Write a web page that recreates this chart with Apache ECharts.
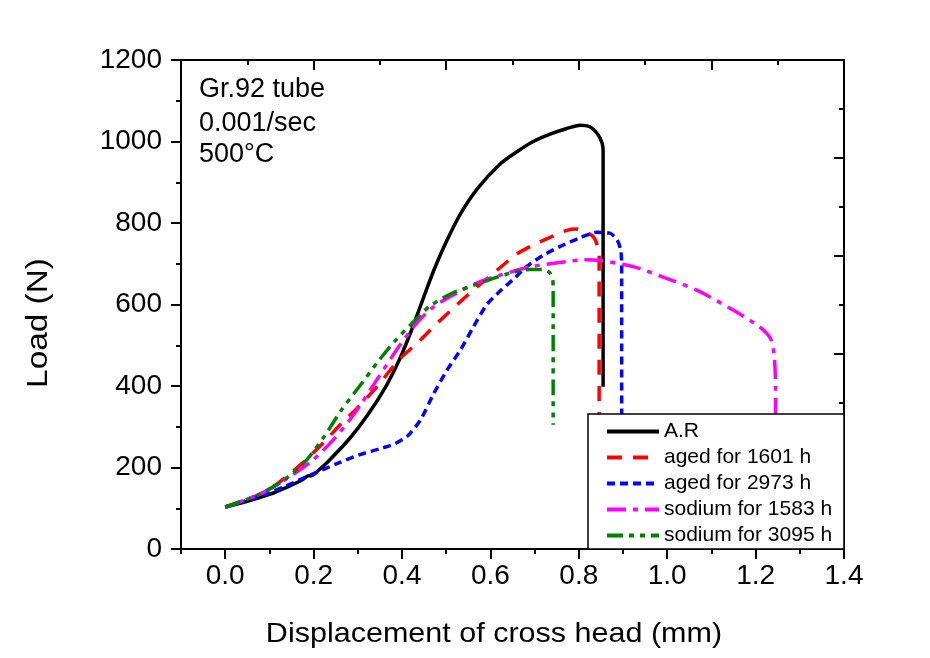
<!DOCTYPE html>
<html><head><meta charset="utf-8">
<script src="https://cdn.jsdelivr.net/npm/echarts@6/dist/echarts.min.js"></script>
<style>html,body{margin:0;padding:0;background:#fff}#c{width:930px;height:658px}</style>
</head><body><div id="c"></div>
<script>
// ---- data ----
const seriesNames = ['A.R', 'aged for 1601 h', 'aged for 2973 h', 'sodium for 1583 h', 'sodium for 3095 h'];
const seriesColors = ['#000000', '#ff0000', '#0000ff', '#ff00ff', '#008000'];

const dataAR = [[0,103],[0.05,117],[0.1,134],[0.14,152],[0.175,170],[0.188,180],[0.196,180],[0.21,192],[0.234,216],[0.283,273],[0.323,330],[0.363,398],[0.393,462],[0.418,527],[0.443,600],[0.472,684],[0.502,758],[0.532,822],[0.572,886],[0.622,945],[0.66,975],[0.697,1000],[0.735,1018],[0.773,1032],[0.803,1040],[0.825,1036],[0.844,1016],[0.853,995],[0.855,978],[0.855,398]];
const dataAged1601 = [[0,103],[0.06,125],[0.114,157],[0.174,210],[0.224,263],[0.263,308],[0.298,345],[0.343,398],[0.393,464],[0.438,509],[0.472,546],[0.512,587],[0.562,636],[0.616,685],[0.66,724],[0.697,746],[0.742,768],[0.773,782],[0.795,785],[0.815,779],[0.833,766],[0.842,745],[0.846,720],[0.846,0]];
const dataAged2973 = [[0,103],[0.075,128],[0.134,153],[0.194,182],[0.254,210],[0.303,231],[0.353,247],[0.383,258],[0.413,278],[0.442,317],[0.472,382],[0.502,439],[0.532,488],[0.562,546],[0.592,600],[0.622,633],[0.652,662],[0.682,693],[0.72,721],[0.757,742],[0.803,764],[0.84,777],[0.87,775],[0.887,758],[0.895,732],[0.897,700],[0.897,0]];
const dataSodium1583 = [[0,103],[0.075,133],[0.134,169],[0.194,214],[0.244,267],[0.293,333],[0.343,415],[0.393,497],[0.433,554],[0.472,595],[0.522,627],[0.572,654],[0.622,672],[0.697,694],[0.773,705],[0.81,710],[0.848,708],[0.923,693],[0.989,668],[1.069,634],[1.148,587],[1.208,546],[1.234,516],[1.242,475],[1.245,400],[1.245,0]];
const dataSodium3095 = [[0,103],[0.075,133],[0.134,170],[0.184,218],[0.224,276],[0.263,341],[0.303,398],[0.343,456],[0.383,509],[0.423,554],[0.462,595],[0.512,627],[0.572,651],[0.644,677],[0.69,686],[0.72,686],[0.734,678],[0.741,660],[0.742,640],[0.742,305]];

const xMajorTicks = [0, 0.2, 0.4, 0.6, 0.8, 1.0, 1.2, 1.4];
const xMinorTicks = [-0.1, 0.1, 0.3, 0.5, 0.7, 0.9, 1.1, 1.3];
const xTopMajorTicks = [0.2, 0.5, 0.8, 1.1];
const xTopMinorTicks = [0.05, 0.35, 0.65, 0.95, 1.25];
const annotationLines = ['Gr.92 tube', '0.001/sec', '500°C'];
const xTitle = 'Displacement of cross head (mm)';
const yTitle = 'Load (N)';

// ---- styles ----
const FONT = '"Liberation Sans", Arial, Helvetica, sans-serif';
const dashes = ['solid', [15, 11], [8, 5], [19, 7, 5, 7], [16, 6, 5, 6, 5, 6]];
const allData = [dataAR, dataAged1601, dataAged2973, dataSodium1583, dataSodium3095];

const chart = echarts.init(document.getElementById('c'), null, {renderer: 'canvas'});
const axisLine = {show: true, onZero: false, lineStyle: {color: '#000', width: 2}};
const noLine = {show: false, onZero: false};

const option = {
  animation: false,
  backgroundColor: '#fff',
  grid: {left: 181, top: 60, right: 86, bottom: 109, containLabel: false},
  xAxis: [
    {type: 'value', position: 'bottom', min: -0.1, max: 1.4,
     axisLine: axisLine,
     axisTick: {show: true, inside: false, length: 10, customValues: xMajorTicks, lineStyle: {color: '#000', width: 2}},
     axisLabel: {show: true, customValues: xMajorTicks, formatter: v => v.toFixed(1), fontSize: 28, fontFamily: FONT, color: '#000', margin: 13},
     splitLine: {show: false}},
    {type: 'value', position: 'bottom', min: -0.1, max: 1.4,
     axisLine: noLine,
     axisTick: {show: true, inside: false, length: 5, customValues: xMinorTicks, lineStyle: {color: '#000', width: 2}},
     axisLabel: {show: false}, splitLine: {show: false}},
    {type: 'value', position: 'top', min: -0.1, max: 1.4,
     axisLine: axisLine,
     axisTick: {show: true, inside: true, length: 10, customValues: xTopMajorTicks, lineStyle: {color: '#000', width: 2}},
     axisLabel: {show: false}, splitLine: {show: false}},
    {type: 'value', position: 'top', min: -0.1, max: 1.4,
     axisLine: noLine,
     axisTick: {show: true, inside: true, length: 5, customValues: xTopMinorTicks, lineStyle: {color: '#000', width: 2}},
     axisLabel: {show: false}, splitLine: {show: false}}
  ],
  yAxis: [
    {type: 'value', position: 'left', min: 0, max: 1200, interval: 200,
     axisLine: axisLine,
     axisTick: {show: true, inside: false, length: 10, lineStyle: {color: '#000', width: 2}},
     minorTick: {show: true, splitNumber: 2, length: 5, lineStyle: {color: '#000', width: 2}},
     axisLabel: {fontSize: 28, fontFamily: FONT, color: '#000', margin: 19, formatter: v => String(v)},
     splitLine: {show: false}, minorSplitLine: {show: false}},
    {type: 'value', position: 'right', min: 0, max: 1200, interval: 240,
     axisLine: axisLine,
     axisTick: {show: true, inside: true, length: 10, lineStyle: {color: '#000', width: 2}},
     minorTick: {show: true, splitNumber: 2, length: 5, lineStyle: {color: '#000', width: 2}},
     axisLabel: {show: false},
     splitLine: {show: false}, minorSplitLine: {show: false}}
  ],
  legend: {
    show: true, orient: 'vertical', left: 605, top: 421, padding: 0,
    itemWidth: 52, itemHeight: 21, itemGap: 5, z: 10,
    data: seriesNames,
    textStyle: {fontSize: 21, fontFamily: FONT, color: '#000'},
    itemStyle: {opacity: 0},
    lineStyle: {width: 4}
  },
  graphic: [
    {type: 'rect', z: 5, shape: {x: 588, y: 414, width: 256, height: 135},
     style: {fill: '#fff', stroke: '#000', lineWidth: 1.5}},
    {type: 'text', x: 199, y: 90, z: 5, style: {text: annotationLines[0], font: '27px ' + FONT, fill: '#000', align: 'left', verticalAlign: 'middle'}},
    {type: 'text', x: 199, y: 123.5, z: 5, style: {text: annotationLines[1], font: '27px ' + FONT, fill: '#000', align: 'left', verticalAlign: 'middle'}},
    {type: 'text', x: 199, y: 154.5, z: 5, style: {text: annotationLines[2], font: '27px ' + FONT, fill: '#000', align: 'left', verticalAlign: 'middle'}},
    {type: 'text', x: 494, y: 634, scaleX: 1.09, z: 5, style: {text: xTitle, font: '28px ' + FONT, fill: '#000', align: 'center', verticalAlign: 'middle'}},
    {type: 'text', x: 39, y: 323, rotation: Math.PI / 2, scaleX: 1.15, z: 5, style: {text: yTitle, font: '29px ' + FONT, fill: '#000', align: 'center', verticalAlign: 'middle'}}
  ],
  series: seriesNames.map((name, i) => ({
    name: name, type: 'line', xAxisIndex: 0, yAxisIndex: 0,
    data: allData[i], symbol: 'none', showSymbol: false, smooth: 0.25,
    lineStyle: {color: seriesColors[i], width: 3.5, type: dashes[i]},
    itemStyle: {color: seriesColors[i]}, z: 2
  }))
};
chart.setOption(option);
</script>
</body></html>
